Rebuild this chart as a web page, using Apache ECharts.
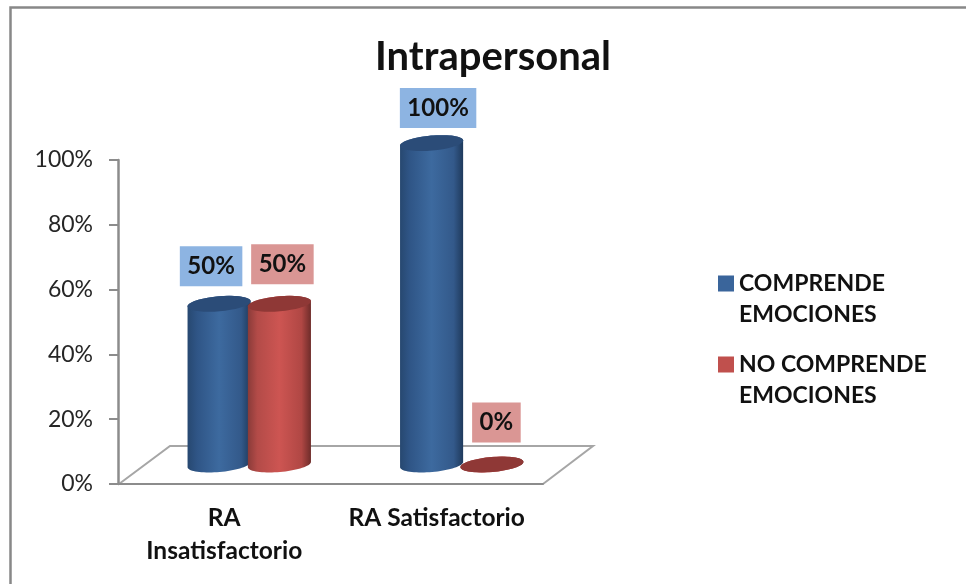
<!DOCTYPE html>
<html>
<head>
<meta charset="utf-8">
<style>html,body{margin:0;padding:0;background:#fff}#chart{width:966px;height:584px}</style>
<script src="https://cdn.jsdelivr.net/npm/echarts@6/dist/echarts.min.js"></script>
</head>
<body>
<div id="chart"></div>
<script>
const chartTitle = 'Intrapersonal';
const categories = ['RA\nInsatisfactorio', 'RA Satisfactorio'];
const seriesNames = ['COMPRENDE EMOCIONES', 'NO COMPRENDE EMOCIONES'];
const comprende = [50, 100];
const noComprende = [50, 0];
const valueTicks = { min: 0, max: 100, interval: 20 };

const FONT = 'Lato, "Open Sans", sans-serif';
const INK = '#111';
const AXIS = '#8c8c8c';

// Oblique projection of the cylinders onto the chart floor
const DEPTH_X = 25;
const DEPTH_Y = -19.5;
const HEIGHT_SCALE = 0.992;
const BAR_RATIO = 0.298;
const BAR_OVERLAP = 1.5;
const RY = 7.5;
const TILT = 5 * Math.PI / 180;

// Offsets of each value box from the top of its cylinder: [series][category]
const boxOffsets = [
  [[-8, -37.5], [6.5, -35]],
  [[3, -39.5], [4.5, -42]]
];

const palettes = [
  {
    legend: '#3A659B', top: '#2B4C78', box: '#8DB4E2',
    body: ['#274870', '#2F5586', '#3D6A9F', '#33598A', '#1F3A5C']
  },
  {
    legend: '#C0504D', top: '#8F3836', box: '#DA9694',
    body: ['#8A3B39', '#B34B48', '#CD5552', '#B04744', '#6E2C2A']
  }
];

function ellipsePoint(cx, cy, rx, t) {
  const c = Math.cos(t), s = Math.sin(t);
  return [
    cx + rx * c * Math.cos(TILT) + RY * s * Math.sin(TILT),
    cy - rx * c * Math.sin(TILT) + RY * s * Math.cos(TILT)
  ];
}

function ellipseArc(cx, cy, rx, from, to) {
  const pts = [];
  const steps = 36;
  for (let i = 0; i <= steps; i++) {
    pts.push(ellipsePoint(cx, cy, rx, from + (to - from) * i / steps));
  }
  return pts;
}

function cylinderRenderer(seriesIndex) {
  const palette = palettes[seriesIndex];
  return function (params, api) {
    const cat = api.value(0);
    const val = api.value(1);
    const base = api.coord([cat, 0]);
    const tip = api.coord([cat, val]);
    const barW = api.size([1, 0])[0] * BAR_RATIO;
    const rx = barW / 2;
    const shift = rx - BAR_OVERLAP;
    const cx = base[0] + DEPTH_X + (seriesIndex === 0 ? -shift : shift);
    const baseY = base[1] + DEPTH_Y;
    const topY = baseY + (tip[1] - base[1]) * HEIGHT_SCALE;

    const body = ellipseArc(cx, baseY, rx, 0, Math.PI)
      .concat(ellipseArc(cx, topY, rx, Math.PI, Math.PI * 2));
    const stops = palette.body.map((color, i) => ({
      offset: [0, 0.15, 0.5, 0.85, 1][i], color
    }));
    const offset = boxOffsets[seriesIndex][cat];

    return {
      type: 'group',
      children: [
        {
          type: 'polygon',
          shape: { points: body },
          style: { fill: new echarts.graphic.LinearGradient(0, 0, 1, 0, stops) }
        },
        {
          type: 'polygon',
          shape: { points: ellipseArc(cx, topY, rx, 0, Math.PI * 2) },
          style: { fill: palette.top }
        },
        {
          type: 'text',
          x: cx + offset[0],
          y: topY + offset[1],
          z2: 10,
          style: {
            text: val + '%',
            align: 'center',
            verticalAlign: 'middle',
            font: 'bold 24px ' + FONT,
            fill: INK,
            backgroundColor: palette.box,
            padding: [8, 7.5, 8, 7.5]
          }
        }
      ]
    };
  };
}

function cylinderSeries(name, values, seriesIndex) {
  return {
    type: 'custom',
    name,
    coordinateSystem: 'cartesian2d',
    clip: false,
    encode: { x: 0, y: 1 },
    itemStyle: { color: palettes[seriesIndex].legend },
    renderItem: cylinderRenderer(seriesIndex),
    data: values.map((v, i) => [i, v])
  };
}

const chart = echarts.init(document.getElementById('chart'), null, { renderer: 'canvas' });

chart.setOption({
  animation: false,
  backgroundColor: '#fff',
  title: {
    text: chartTitle,
    left: 488,
    top: 32,
    textAlign: 'center',
    textStyle: { fontFamily: FONT, fontWeight: 'bold', fontSize: 40, color: INK }
  },
  legend: {
    orient: 'vertical',
    left: 713,
    top: 263,
    itemWidth: 16,
    itemHeight: 47,
    itemGap: 19,
    icon: 'path://M0 0H16V16H0Z M0 47h.01',
    data: seriesNames,
    formatter: name => name.replace(/ EMOCIONES$/, '\nEMOCIONES'),
    textStyle: {
      fontFamily: FONT,
      fontWeight: 'bold',
      fontSize: 23,
      lineHeight: 31,
      color: INK
    }
  },
  grid: { left: 118, right: 423, top: 160, bottom: 100 },
  xAxis: {
    type: 'category',
    data: categories,
    axisTick: { show: false },
    axisLine: { lineStyle: { color: AXIS, width: 2 } },
    axisLabel: {
      margin: 18,
      interval: 0,
      fontFamily: FONT,
      fontWeight: 'bold',
      fontSize: 24.5,
      lineHeight: 33,
      color: INK
    }
  },
  yAxis: {
    type: 'value',
    min: valueTicks.min,
    max: valueTicks.max,
    interval: valueTicks.interval,
    splitLine: { show: false },
    axisLine: { show: true, lineStyle: { color: AXIS, width: 2.5 } },
    axisTick: { show: true, length: 9, lineStyle: { color: AXIS, width: 2 } },
    axisLabel: {
      formatter: '{value}%',
      margin: 25,
      fontFamily: FONT,
      fontSize: 23,
      color: '#262626'
    }
  },
  graphic: [
    {
      // Chart frame, open towards the page edges
      type: 'polyline',
      z: 0,
      shape: { points: [[10.5, 584], [10.5, 7.5], [966, 7.5]] },
      style: { stroke: '#888', lineWidth: 2.5, fill: null }
    },
    {
      // Receding floor of the plot
      type: 'polyline',
      z: 0,
      shape: { points: [[119, 484], [170, 446], [593, 446], [543, 484]] },
      style: { stroke: '#a6a6a6', lineWidth: 2, fill: null }
    }
  ],
  series: [
    cylinderSeries(seriesNames[0], comprende, 0),
    cylinderSeries(seriesNames[1], noComprende, 1)
  ]
});
</script>
</body>
</html>
